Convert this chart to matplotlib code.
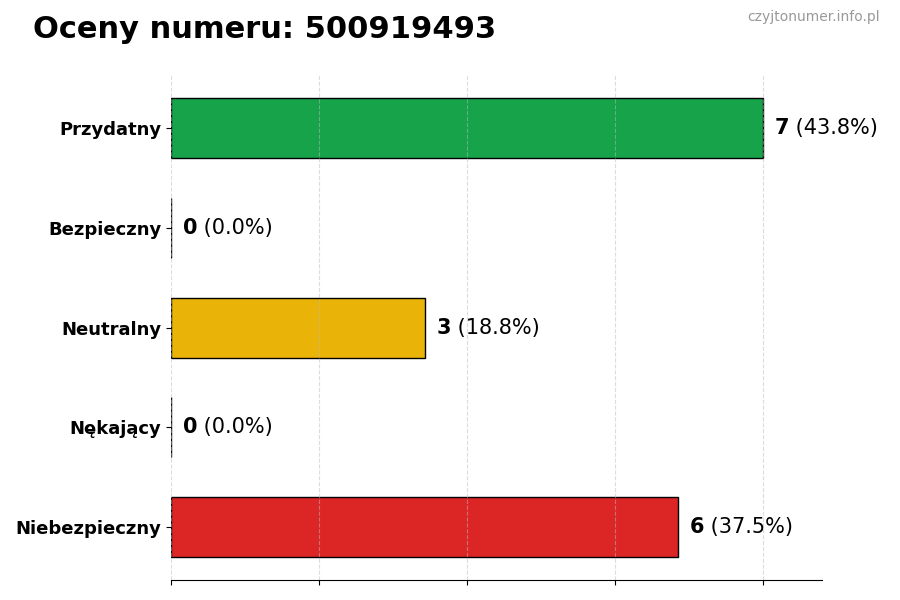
import matplotlib
matplotlib.use("Agg")
import matplotlib.pyplot as plt
import numpy as np

# dane z wykresu
categories = ["Przydatny", "Bezpieczny", "Neutralny", "Nękający", "Niebezpieczny"]
counts = [7, 0, 3, 0, 6]
colors = ["#16a34a", "#9ca3af", "#eab308", "#f97316", "#dc2626"]
phone = "500919493"

total = sum(counts)
y_pos = np.arange(len(categories))

fig, ax = plt.subplots(figsize=(9, 6), dpi=100)
fig.subplots_adjust(left=0.19, right=0.913, top=0.875, bottom=0.033)

ax.barh(y_pos, counts, height=0.6, color=colors, edgecolor="black",
        linewidth=1, zorder=2)
ax.set_yticks(y_pos)
ax.set_yticklabels(categories, fontsize=13, fontweight="bold")
ax.invert_yaxis()

xmax = max(counts)
ax.set_xlim(0, xmax * 1.1)
ax.set_xticks(np.linspace(0, xmax, 5))
ax.set_xticklabels([])
ax.grid(axis="x", linestyle="--", color="#bbbbbb", alpha=0.5, zorder=3)
ax.set_axisbelow(False)

for s in ["top", "right", "left"]:
    ax.spines[s].set_visible(False)

# etykiety z wartosciami
for i, v in enumerate(counts):
    pct = 100.0 * v / total
    t = ax.text(v + xmax * 0.02, i, str(v), fontsize=15, fontweight="bold",
                va="center", ha="left")
    ax.annotate(f" ({pct:.1f}%)", xy=(1, 0.5), xycoords=t, fontsize=15,
                va="center", ha="left")

fig.text(0.037, 0.95, f"Oceny numeru: {phone}", fontsize=22,
         fontweight="bold", ha="left", va="center")
fig.text(0.978, 0.972, "czyjtonumer.info.pl", fontsize=10, color="#999999",
         ha="right", va="center")

fig.savefig("out.png", dpi=100)
